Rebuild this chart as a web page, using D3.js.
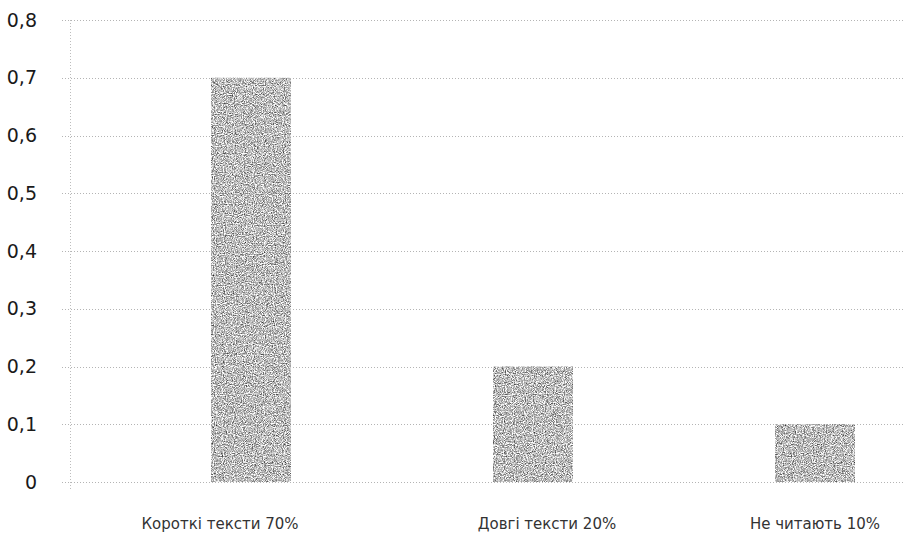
<!DOCTYPE html>
<html>
<head>
<meta charset="utf-8">
<script src="https://cdn.jsdelivr.net/npm/d3@7/dist/d3.min.js"></script>
<style>
  html, body { margin: 0; padding: 0; background: #fff; }
  svg { display: block; }
</style>
</head>
<body>
<svg id="chart" width="909" height="538"></svg>
<script>
// Survey: how people read texts
const categories = ["Короткі тексти 70%", "Довгі тексти 20%", "Не читають 10%"];
const shares = [0.7, 0.2, 0.1];
const yTicks = [0, 0.1, 0.2, 0.3, 0.4, 0.5, 0.6, 0.7, 0.8];

const svg = d3.select("#chart");
const plot = { left: 70, right: 905, top: 20, bottom: 482 };

const y = d3.scaleLinear().domain([0, 0.8]).range([plot.bottom, plot.top]);
const x = d3.scalePoint().domain(categories).range([251, 815]);
const barWidth = 80;
// category captions sit slightly off the bar centres
const captionShift = [-31, 14, 0];

const fmt = v => v === 0 ? "0" : d3.format(".1f")(v).replace(".", ",");

// grainy grey fill for the bars
const defs = svg.append("defs");
const grain = defs.append("filter").attr("id", "grain")
  .attr("x", 0).attr("y", 0).attr("width", 1).attr("height", 1)
  .attr("color-interpolation-filters", "sRGB");
grain.append("feTurbulence")
  .attr("type", "fractalNoise").attr("baseFrequency", 0.9)
  .attr("numOctaves", 3).attr("seed", 11).attr("result", "noise");
grain.append("feColorMatrix").attr("in", "noise").attr("type", "matrix")
  .attr("values", "1.4 0 0 0 0.04  1.4 0 0 0 0.04  1.4 0 0 0 0.04  0 0 0 0 1")
  .attr("result", "speckle");
grain.append("feComposite").attr("in", "speckle").attr("in2", "SourceGraphic")
  .attr("operator", "in");

// horizontal gridlines with small tick stubs on the left
svg.append("g").selectAll("line").data(yTicks).join("line")
  .attr("x1", plot.left - 8).attr("x2", plot.right)
  .attr("y1", d => Math.round(y(d)) + 0.5).attr("y2", d => Math.round(y(d)) + 0.5)
  .attr("stroke", "#b4b4b4").attr("stroke-width", 1)
  .attr("stroke-dasharray", "1,2");

// vertical axis line
svg.append("line")
  .attr("x1", plot.left + 0.5).attr("x2", plot.left + 0.5)
  .attr("y1", plot.top).attr("y2", plot.bottom + 8)
  .attr("stroke", "#bdbdbd").attr("stroke-dasharray", "1,2");

// y tick labels
const yAxis = d3.axisLeft(y).tickValues(yTicks).tickFormat(fmt).tickSize(0).tickPadding(0);
const gy = svg.append("g").attr("transform", "translate(37,0)").call(yAxis);
gy.select(".domain").remove();
gy.selectAll("text")
  .attr("font-family", "DejaVu Sans, Verdana, sans-serif")
  .attr("font-size", 19).attr("fill", "#1a1a1a").attr("dy", "0.32em");

// bars
svg.append("g").selectAll("rect").data(shares).join("rect")
  .attr("x", (d, i) => x(categories[i]) - barWidth / 2)
  .attr("width", barWidth)
  .attr("y", d => y(d))
  .attr("height", d => y(0) - y(d))
  .attr("fill", "#a6a6a6")
  .attr("filter", "url(#grain)");

// category labels
svg.append("g").selectAll("text").data(categories).join("text")
  .attr("x", (d, i) => x(d) + captionShift[i])
  .attr("y", 529)
  .attr("text-anchor", "middle")
  .attr("font-family", "DejaVu Sans, Verdana, sans-serif")
  .attr("font-size", 15)
  .attr("fill", "#333")
  .text(d => d);
</script>
</body>
</html>
